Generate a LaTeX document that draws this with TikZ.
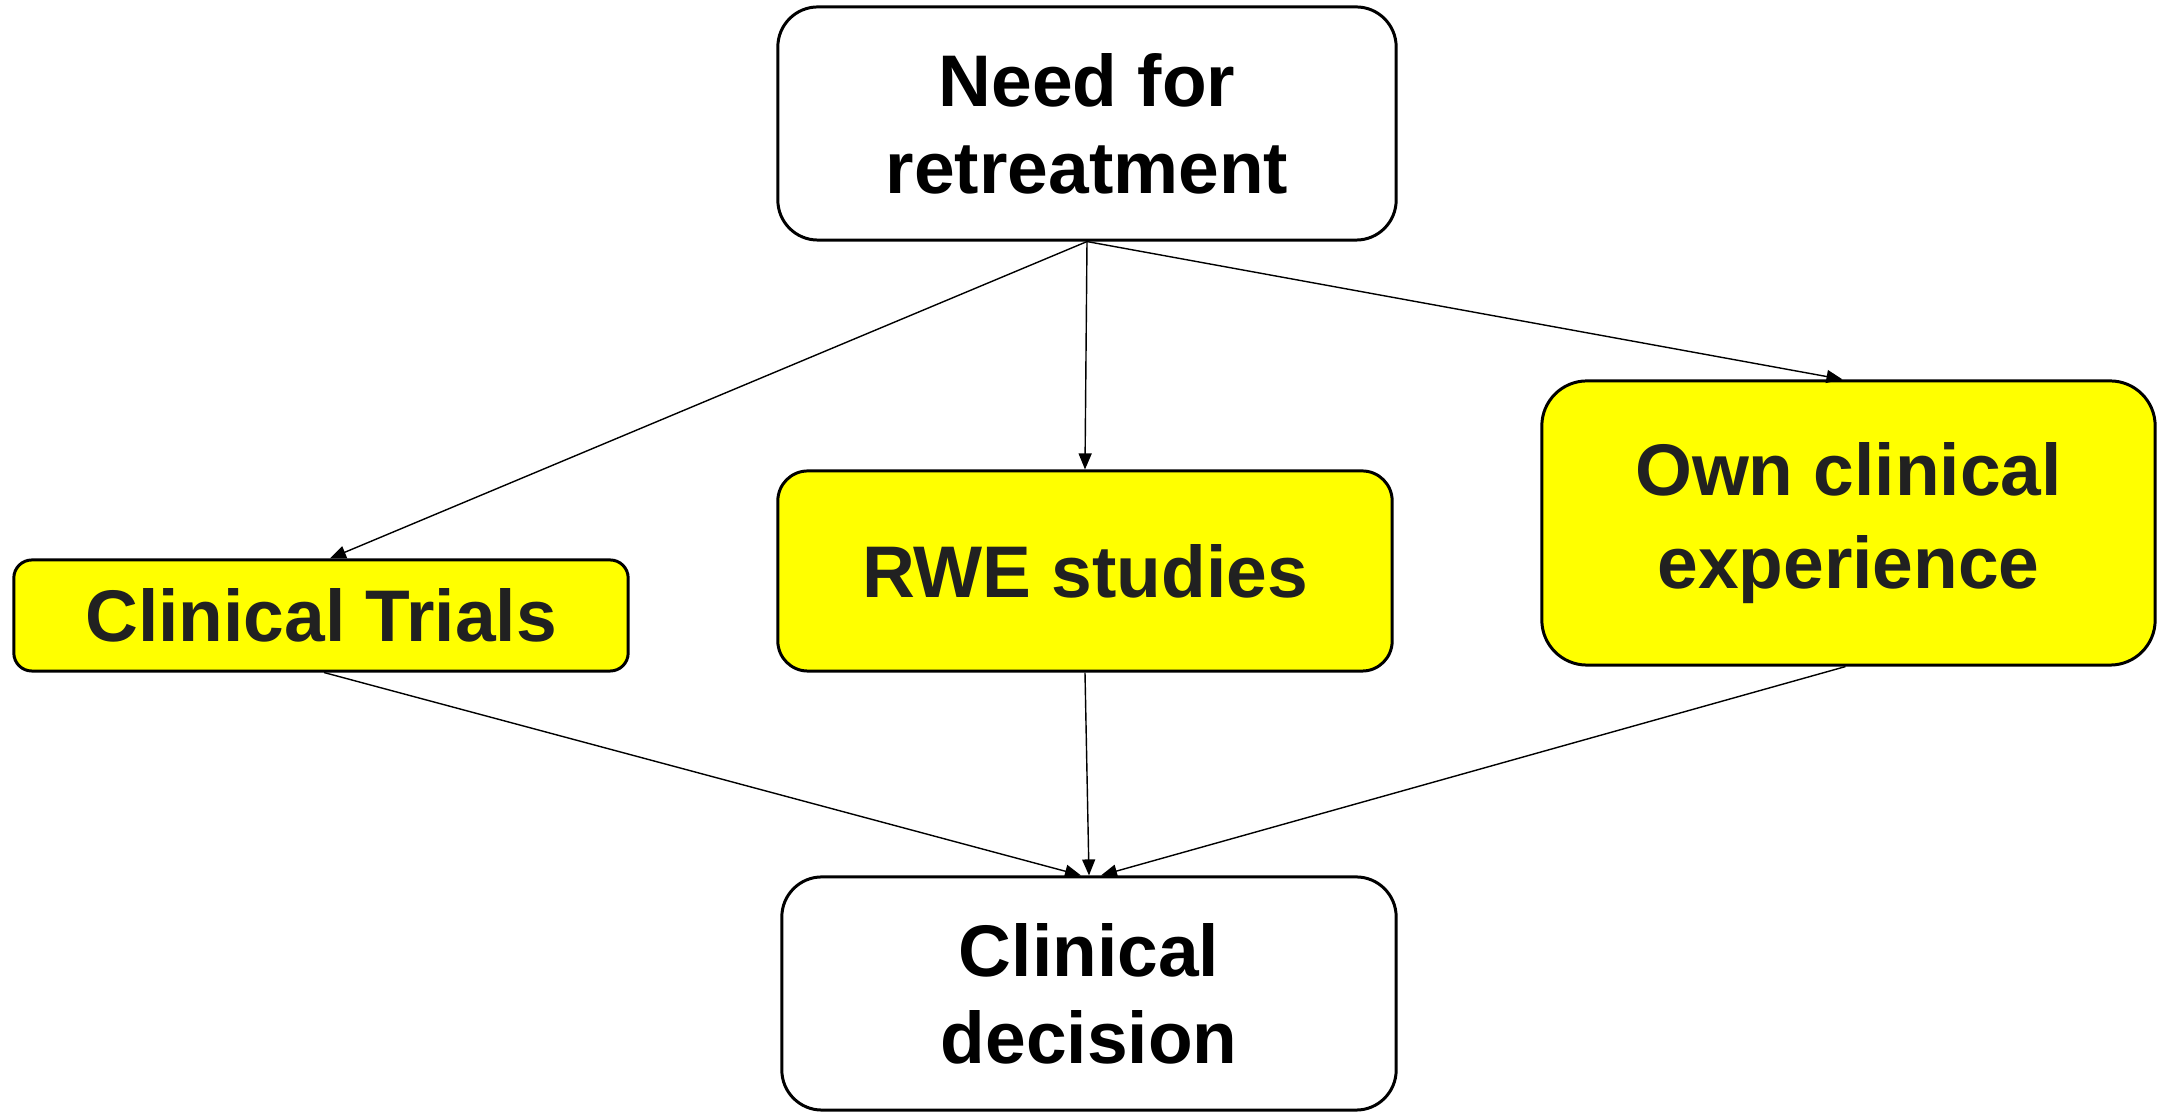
\documentclass[tikz,border=0pt]{standalone}
\usepackage{fontspec}
\setmainfont{Liberation Sans}
\usetikzlibrary{arrows.meta}
\definecolor{boxyellow}{RGB}{255,255,0}

\begin{document}
\begin{tikzpicture}[x=0.01cm,y=-0.01cm,
        box/.style={draw=black, line width=0.85pt, rounded corners=0.4cm, align=center, inner sep=0pt,
            font=\fontsize{20.8}{24.8}\selectfont\bfseries},
        ybox/.style={box, fill=boxyellow, text={black!87}},
        conn/.style={line width=0.4pt, -{Triangle[length=0.16cm,width=0.13cm]}}]

        \useasboundingbox (0,0) rectangle (2159,1113);

        % top and bottom
        \node[box, minimum width=6.18cm, minimum height=2.33cm] (need) at (1087,123.5) {Need for\\retreatment};
        \node[box, minimum width=6.14cm, minimum height=2.33cm] (decision) at (1089,993.5) {Clinical\\decision};

        % the three sources
        \node[ybox, rounded corners=0.18cm, minimum width=6.14cm, minimum height=1.11cm] (trials) at (321,615.5) {Clinical Trials};
        \node[ybox, rounded corners=0.3cm, minimum width=6.14cm, minimum height=2.0cm] (rwe) at (1085,571) {RWE studies};
        \node[ybox, rounded corners=0.45cm, minimum width=6.13cm, minimum height=2.84cm] (own) at (1848.5,523) {Own clinical\\[0.06cm]experience};

        \draw[conn] (need.south) -- ([xshift=0.09cm]trials.north);
        \draw[conn] (need.south) -- (rwe.north);
        \draw[conn] (need.south) -- ([xshift=-0.06cm]own.north);

        \draw[conn] ([xshift=0.03cm]trials.south) -- ([xshift=-0.08cm]decision.north);
        \draw[conn] (rwe.south) -- (decision.north);
        \draw[conn] ([xshift=-0.03cm]own.south) -- ([xshift=0.12cm]decision.north);
\end{tikzpicture}
\end{document}
